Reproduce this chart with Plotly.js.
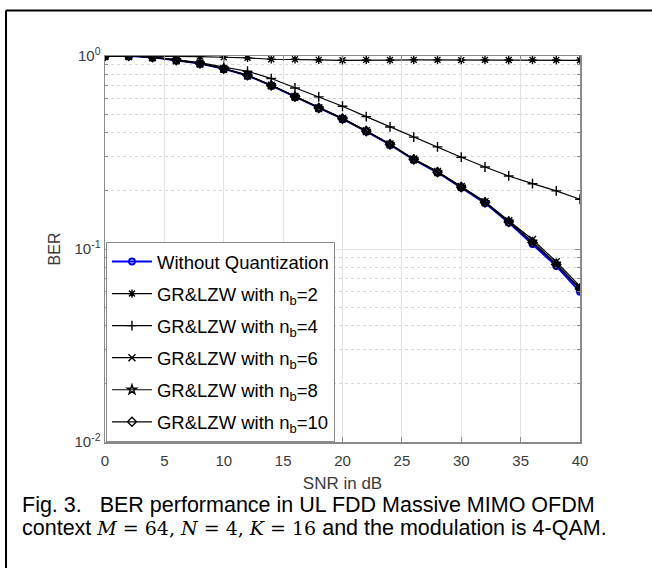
<!DOCTYPE html>
<html>
<head>
<meta charset="utf-8">
<script src="https://cdn.plot.ly/plotly-3.0.1.min.js"></script>
<style>html,body{margin:0;padding:0;background:#fff;overflow:hidden;}#chart{width:652px;height:568px;}</style>
</head>
<body>
<div id="chart"></div>
<script>
// SNR values (dB)
const snr = [0, 2, 4, 6, 8, 10, 12, 14, 16, 18, 20, 22, 24, 26, 28, 30, 32, 34, 36, 38, 40];
// BER series
const berNoQuant = [1.0, 1.0, 0.985, 0.951, 0.914, 0.858, 0.792, 0.703, 0.614, 0.536, 0.472, 0.407, 0.347, 0.290, 0.249, 0.208, 0.173, 0.137, 0.106, 0.0816, 0.060];
const berNb2 = [1.0, 1.0, 1.0, 0.998, 0.993, 0.985, 0.978, 0.962, 0.962, 0.955, 0.950, 0.955, 0.953, 0.955, 0.955, 0.952, 0.955, 0.953, 0.955, 0.953, 0.950];
const berNb4 = [1.0, 1.0, 0.99, 0.96, 0.925, 0.875, 0.834, 0.764, 0.683, 0.614, 0.549, 0.485, 0.429, 0.380, 0.338, 0.299, 0.266, 0.239, 0.218, 0.200, 0.181];
const berNb6 = [1.0, 1.0, 0.985, 0.953, 0.916, 0.860, 0.795, 0.706, 0.617, 0.539, 0.475, 0.410, 0.350, 0.293, 0.252, 0.211, 0.176, 0.140, 0.112, 0.086, 0.064];
const berNb8 = [1.0, 1.0, 0.985, 0.952, 0.915, 0.859, 0.793, 0.705, 0.616, 0.538, 0.474, 0.409, 0.349, 0.292, 0.251, 0.210, 0.175, 0.139, 0.109, 0.084, 0.0625];
const berNb10 = [1.0, 1.0, 0.985, 0.952, 0.915, 0.859, 0.794, 0.704, 0.615, 0.537, 0.473, 0.408, 0.348, 0.291, 0.250, 0.209, 0.174, 0.138, 0.108, 0.083, 0.062];
// legend names
const seriesNames = ['Without Quantization', 'GR&amp;LZW with n<sub>b</sub>=2', 'GR&amp;LZW with n<sub>b</sub>=4',
  'GR&amp;LZW with n<sub>b</sub>=6', 'GR&amp;LZW with n<sub>b</sub>=8', 'GR&amp;LZW with n<sub>b</sub>=10'];
// axis ticks
const xTicks = [0, 5, 10, 15, 20, 25, 30, 35, 40];
const yTickVals = [0.01, 0.1, 1];
const yTickText = ['10<sup>-2</sup>', '10<sup>-1</sup>', '10<sup>0</sup>'];

const seriesY = [berNoQuant, berNb2, berNb4, berNb6, berNb8, berNb10];
const symbols = ['circle-open', 'asterisk-open', 'cross-thin-open', 'x-thin-open', 'star-open', 'diamond-open'];

const traces = seriesY.map((y, i) => ({
  x: snr, y: y, type: 'scatter', mode: 'lines+markers', name: seriesNames[i],
  legendgroup: 'g' + i,
  line: {color: i === 0 ? '#0000ff' : '#000000', width: i === 0 ? 2 : 1.2},
  marker: {symbol: symbols[i], size: i === 0 ? 6 : 7, color: i === 0 ? '#0000ff' : '#000000',
    line: {color: i === 0 ? '#0000ff' : '#000000', width: i === 0 ? 1.8 : 1.4}}
}));

const axisColor = '#8a8a8a';
const tickFont = {family: 'Liberation Sans, Arial, sans-serif', size: 15, color: '#3a3a3a'};

const layout = {
  width: 652, height: 568,
  margin: {l: 105, r: 72, t: 56, b: 126, pad: 0},
  paper_bgcolor: '#ffffff', plot_bgcolor: '#ffffff',
  showlegend: true,
  legend: {
    x: 0.002, y: 0, xanchor: 'left', yanchor: 'bottom',
    bgcolor: '#ffffff', bordercolor: '#8a8a8a', borderwidth: 1,
    font: {family: 'Liberation Sans, Arial, sans-serif', size: 18.5, color: '#000000'},
    tracegroupgap: 5, itemwidth: 40, traceorder: 'grouped'
  },
  xaxis: {
    range: [0, 40], tickvals: xTicks, ticks: 'inside', ticklen: 5, tickcolor: axisColor,
    showline: true, linecolor: axisColor, linewidth: 1.5, mirror: 'ticks',
    showgrid: true, gridcolor: '#e3e3e3', gridwidth: 1, zeroline: false,
    tickfont: tickFont, ticklabelstandoff: 4,
    title: {text: 'SNR in dB', font: {family: 'Liberation Sans, Arial, sans-serif', size: 17, color: '#3a3a3a'}, standoff: 9}
  },
  yaxis: {
    type: 'log', range: [-2, 0], tickvals: yTickVals, ticktext: yTickText,
    ticks: 'inside', ticklen: 5, tickcolor: axisColor,
    showline: true, linecolor: axisColor, linewidth: 1.5, mirror: 'ticks',
    showgrid: true, gridcolor: '#e3e3e3', gridwidth: 1, zeroline: false,
    tickfont: tickFont,
    minor: {dtick: 'D1', ticks: 'inside', ticklen: 3, tickcolor: axisColor, showgrid: true, gridcolor: '#d6d6d6', griddash: 'dot', gridwidth: 1},
    title: {text: 'BER', font: {family: 'Liberation Sans, Arial, sans-serif', size: 16, color: '#3a3a3a'}, standoff: 10}
  },
  shapes: [
    {type: 'line', xref: 'paper', yref: 'paper', x0: -0.2084, x1: 1.3, y0: 1.118, y1: 1.118, line: {color: '#000000', width: 2}},
    {type: 'line', xref: 'paper', yref: 'paper', x0: -0.2084, x1: -0.2084, y0: 1.118, y1: -0.4, line: {color: '#000000', width: 2}}
  ],
  annotations: [
    {xref: 'paper', yref: 'paper', x: -0.179, y: -0.163, xanchor: 'left', yanchor: 'middle', showarrow: false, align: 'left',
     font: {family: 'Liberation Sans, Arial, sans-serif', size: 21.5, color: '#000000'},
     text: 'Fig. 3.   BER performance in UL FDD Massive MIMO OFDM'},
    {xref: 'paper', yref: 'paper', x: -0.179, y: -0.223, xanchor: 'left', yanchor: 'middle', showarrow: false, align: 'left',
     font: {family: 'Liberation Sans, Arial, sans-serif', size: 21.5, color: '#000000'},
     text: 'context <span style="font-family:DejaVu Serif;font-size:19px"><i>M</i> = 64, <i>N</i> = 4, <i>K</i> = 16</span> and the modulation is 4-QAM.'}
  ]
};

Plotly.newPlot('chart', traces, layout, {staticPlot: true, displayModeBar: false});
</script>
</body>
</html>
